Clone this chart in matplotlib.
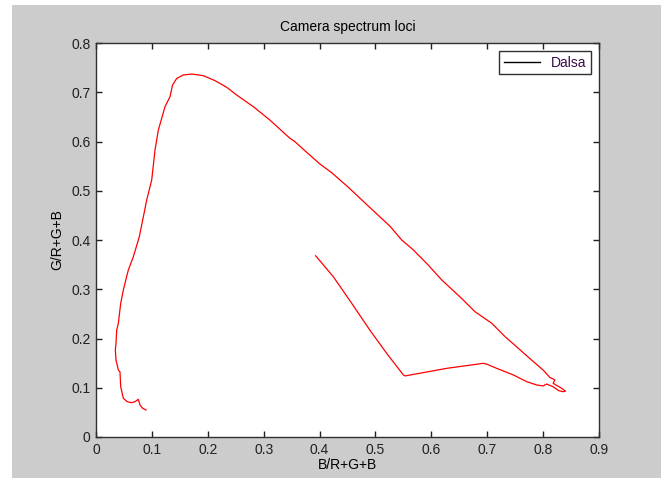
import matplotlib.pyplot as plt
from matplotlib.lines import Line2D
from matplotlib.patches import Rectangle

plt.rcParams['font.family'] = ['Liberation Sans', 'DejaVu Sans']

# chromaticity trace of the camera (B/R+G+B, G/R+G+B)
bx = [0.0895, 0.0835, 0.0787, 0.0757, 0.0698, 0.0638, 0.056, 0.0489, 0.0442, 0.0429,
      0.040, 0.0358, 0.0346, 0.0358, 0.037, 0.040, 0.0442, 0.0489, 0.0578, 0.0668,
      0.0775, 0.0847, 0.0907, 0.0997, 0.1056, 0.1086, 0.1115, 0.1175, 0.1235, 0.1324,
      0.137, 0.1444, 0.156, 0.171, 0.192, 0.213, 0.234, 0.2517, 0.2815, 0.311,
      0.329, 0.347, 0.356, 0.374, 0.401, 0.4217, 0.4515, 0.490, 0.526, 0.547,
      0.5667, 0.5946, 0.6185, 0.654, 0.678, 0.708, 0.732, 0.7557, 0.7796, 0.800,
      0.812, 0.821, 0.818, 0.833, 0.840, 0.836, 0.828, 0.818, 0.806, 0.800,
      0.7886, 0.7707, 0.7467, 0.717, 0.699, 0.693, 0.6275, 0.553, 0.550, 0.520,
      0.490, 0.4575, 0.4246, 0.393]
gy = [0.0548, 0.0583, 0.065, 0.0765, 0.0717, 0.0697, 0.0717, 0.0785, 0.102, 0.1326,
      0.136, 0.156, 0.1767, 0.190, 0.217, 0.231, 0.2715, 0.2985, 0.339, 0.366,
      0.4067, 0.447, 0.481, 0.522, 0.583, 0.603, 0.623, 0.647, 0.6707, 0.691,
      0.7147, 0.728, 0.735, 0.737, 0.7337, 0.7235, 0.710, 0.6944, 0.6707, 0.6437,
      0.625, 0.6065, 0.5996, 0.581, 0.554, 0.5367, 0.507, 0.466, 0.428, 0.400,
      0.381, 0.349, 0.319, 0.2816, 0.2545, 0.231, 0.2037, 0.180, 0.156, 0.136,
      0.121, 0.116, 0.109, 0.099, 0.093, 0.092, 0.094, 0.102, 0.1076, 0.1036,
      0.1056, 0.1123, 0.126, 0.1394, 0.148, 0.1496, 0.1394, 0.124, 0.126, 0.170,
      0.217, 0.2715, 0.3255, 0.368]

W, H = 661, 486
fig = plt.figure(figsize=(W / 100, H / 100), dpi=100, facecolor='white')
fig.patches.append(Rectangle((12 / W, 1 - 478 / H), 1, (478 - 5) / H,
                             transform=fig.transFigure, facecolor='#cccccc',
                             edgecolor='none', zorder=-10))

ax = fig.add_axes([96 / W, 1 - 437 / H, 503 / W, 394 / H])
ax.plot(bx, gy, color='red', lw=0.9)

ax.set_xlim(0, 0.9)
ax.set_ylim(0, 0.8)
ax.set_xticks([0, 0.1, 0.2, 0.3, 0.4, 0.5, 0.6, 0.7, 0.8, 0.9])
ax.set_xticklabels(['0', '0.1', '0.2', '0.3', '0.4', '0.5', '0.6', '0.7', '0.8', '0.9'])
ax.set_yticks([0, 0.1, 0.2, 0.3, 0.4, 0.5, 0.6, 0.7, 0.8])
ax.set_yticklabels(['0', '0.1', '0.2', '0.3', '0.4', '0.5', '0.6', '0.7', '0.8'])
ax.tick_params(direction='in', top=True, right=True, length=4, width=1,
               labelsize=10, colors='#202020', pad=4)
for s in ax.spines.values():
    s.set_linewidth(1)
    s.set_color('#303030')

ax.set_title('Camera spectrum loci', fontsize=10, pad=9)
ax.set_xlabel('B/R+G+B', fontsize=10, labelpad=1)
ax.set_ylabel('G/R+G+B', fontsize=10, labelpad=5)

h = Line2D([], [], color='black', lw=1)
leg = ax.legend([h], ['Dalsa'], loc='upper right', fontsize=10, fancybox=False,
                framealpha=1, borderaxespad=0.55, handlelength=2.6,
                borderpad=0.35, labelcolor='#3a0a4a')
leg.get_frame().set_edgecolor('#303030')
leg.get_frame().set_linewidth(1)

fig.savefig('out.png', dpi=100, facecolor=fig.get_facecolor())
